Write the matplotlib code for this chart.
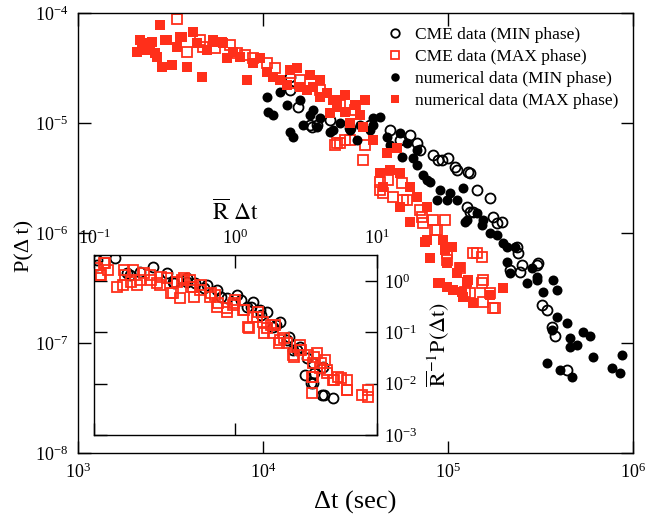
import numpy as np
import matplotlib
matplotlib.use("Agg")
import matplotlib.pyplot as plt
from matplotlib.ticker import NullLocator, LogLocator

plt.rcParams.update({"font.family": ["Liberation Serif", "DejaVu Serif"],
                     "mathtext.fontset": "stix", "font.size": 13,
                     "axes.linewidth": 1.0})

RED = "#ff2f1a"

# main panel: waiting times (s) and P(dt)
cme_min_dt = [1.4e4, 1.4e4, 1.79e4, 1.55e4, 1.84e4, 1.96e4, 6.23e4, 6.8e4, 8.3e4, 8.83e4,
              1.0e5, 1.09e5, 1.31e5, 1.43e5, 1.69e5, 1.75e5, 1.96e5, 2.36e5, 2.38e5, 1.27e5,
              1.37e5, 7.06e4, 9.3e4, 1.12e5, 1.28e5, 1.84e5, 2.51e5, 3.06e5, 2.16e5, 3.22e5,
              3.43e5, 3.65e5, 3.79e5, 4.4e5, 2.45e5, 3.03e5, 1.31e5, 2.3e4, 2.95e4, 3.79e4,
              4.86e4, 5.5e4]
cme_min_p = [2.65e-5, 2.02e-5, 9.7e-6, 1.41e-5, 9.3e-6, 9.7e-6, 7.85e-6, 6.65e-6, 5.17e-6, 4.66e-6,
             4.86e-6, 4.02e-6, 3.55e-6, 2.49e-6, 2.1e-6, 1.41e-6, 1.27e-6, 7.54e-7, 6.65e-7, 1.74e-6,
             1.57e-6, 5.74e-6, 4.66e-6, 3.78e-6, 3.62e-6, 1.25e-6, 5.17e-7, 5.4e-7, 4.66e-7, 2.24e-7,
             2.02e-7, 1.41e-7, 1.15e-7, 5.74e-8, 4.47e-7, 5.17e-7, 1.57e-6, 1.08e-5, 9.1e-6, 9.7e-6,
             8.73e-6, 7.08e-6]

cme_max_dt = [3.43e3, 4.56e3, 4.74e3, 3.88e3, 7.23e3, 8.83e3, 1.05e4, 1.4e4, 2.45e4, 2.51e4,
              2.77e4, 3.14e4, 3.47e4, 4.29e4, 4.74e4, 5.64e4, 4.46e4, 5.04e4, 6.0e4, 7.06e4,
              8.3e4, 9.6e4, 8.73e4, 7.33e4, 9.9e4, 1.37e5, 1.53e5, 4.29e4, 5.71e4, 7.23e4,
              8.5e4, 9.9e4, 1.16e5, 1.43e5, 1.55e5, 1.31e5, 1.69e5, 1.8e5, 1.24e5, 1.53e5,
              1.55e5, 1.75e5, 5.5e3, 6.64e3, 8.0e3, 1.16e4, 1.58e4, 2.03e4, 2.61e4, 2.95e4,
              3.56e4, 2.61e4]
cme_max_p = [8.91e-5, 5.74e-5, 4.96e-5, 4.47e-5, 4.38e-5, 3.94e-5, 3.55e-5, 2.34e-5, 6.38e-6, 6.65e-6,
             7.08e-6, 1.33e-5, 4.66e-6, 2.94e-6, 3.06e-6, 2.88e-6, 2.33e-6, 2.15e-6, 2.02e-6, 1.64e-6,
             1.33e-6, 1.33e-6, 1.08e-6, 1.25e-6, 6.65e-7, 6.65e-7, 6.11e-7, 2.49e-6, 2.02e-6, 1.41e-6,
             1.08e-6, 5.74e-7, 4.86e-7, 6.65e-7, 3.78e-7, 2.88e-7, 2.88e-7, 2.1e-7, 2.94e-7, 3.55e-7,
             2.38e-7, 2.1e-7, 4.86e-5, 5.17e-5, 4.2e-5, 3.2e-5, 2.49e-5, 2.02e-5, 1.47e-5, 7.08e-6,
             6.38e-6, 6.65e-6]

num_min_dt = [1.05e4, 1.06e4, 1.13e4, 1.4e4, 1.45e4, 1.24e4, 1.35e4, 1.58e4, 1.65e4, 1.86e4,
              2.03e4, 1.96e4, 2.3e4, 2.39e4, 2.61e4, 3.22e4, 3.79e4, 4.29e4, 3.93e4, 4.68e4,
              5.5e4, 6.0e4, 5.64e4, 6.47e4, 6.8e4, 7.33e4, 8.0e4, 9.05e4, 8.73e4, 1.03e5,
              1.12e5, 1.2e5, 1.24e5, 1.53e5, 1.69e5, 1.84e5, 1.98e5, 2.3e5, 2.08e5, 2.16e5,
              2.84e5, 2.67e5, 3.03e5, 3.26e5, 3.7e5, 3.88e5, 3.88e5, 4.4e5, 3.65e5, 4.56e5,
              4.98e5, 5.37e5, 5.86e5, 6.08e5, 3.43e5, 4.03e5, 4.68e5, 7.7e5, 8.73e5, 8.5e5,
              4.56e5, 3.93e4, 6.8e4, 7.7e4, 9.9e4, 1.27e5, 1.43e5, 1.55e5, 2.08e5, 3.03e5,
              1.79e4, 2.95e4, 4.86e4, 3.34e4]
num_min_p = [1.74e-5, 1.27e-5, 1.19e-5, 8.37e-6, 7.54e-6, 1.93e-5, 1.47e-5, 1.64e-5, 9.7e-6, 1.33e-5,
             1.12e-5, 9.3e-6, 8.37e-6, 8.73e-6, 1.01e-5, 7.08e-6, 8.73e-6, 1.15e-5, 9.7e-6, 7.54e-6,
             8.2e-6, 6.65e-6, 4.96e-6, 4.86e-6, 4.2e-6, 3.4e-6, 2.94e-6, 2.49e-6, 2.02e-6, 2.33e-6,
             2.02e-6, 2.59e-6, 1.27e-6, 1.19e-6, 1.01e-6, 9.7e-7, 8.2e-7, 7.54e-7, 5.5e-7, 4.38e-7,
             4.86e-7, 3.55e-7, 3.78e-7, 2.94e-7, 3.78e-7, 3.06e-7, 1.74e-7, 1.53e-7, 1.33e-7, 1.12e-7,
             9.7e-8, 1.27e-7, 1.15e-7, 7.54e-8, 6.65e-8, 5.74e-8, 4.96e-8, 5.98e-8, 7.85e-8, 5.4e-8,
             9.3e-8, 1.12e-5, 5.74e-6, 3.06e-6, 2.02e-6, 1.33e-6, 1.54e-6, 1.33e-6, 7.54e-7, 4.02e-7,
             1.19e-5, 8.73e-6, 6.38e-6, 9.7e-6]

num_max_dt = [2.77e3, 2.08e3, 2.22e3, 2.51e3, 2.36e3, 2.67e3, 2.84e3, 3.03e3, 3.22e3, 3.43e3,
              3.65e3, 3.88e3, 4.19e3, 4.68e3, 4.4e3, 4.98e3, 5.37e3, 6.08e3, 6.39e3, 6.89e3,
              7.51e3, 8.2e3, 8.83e3, 9.63e3, 1.05e4, 1.13e4, 1.24e4, 1.35e4, 1.53e4, 1.58e4,
              1.73e4, 1.86e4, 2.03e4, 2.22e4, 2.39e4, 2.3e4, 2.51e4, 2.95e4, 3.47e4, 3.93e4,
              4.68e4, 5.3e4, 4.29e4, 4.86e4, 5.5e4, 4.46e4, 6.23e4, 5.5e4, 6.8e4, 7.7e4,
              6.23e4, 7.7e4, 9.4e4, 7.5e4, 8.0e4, 1.05e5, 9.9e4, 1.16e5, 9.05e4, 9.9e4,
              1.06e5, 1.19e5, 1.28e5, 1.12e5, 1.2e5, 1.37e5, 1.98e5, 9.6e4, 8.83e4, 1.69e5,
              1.27e5, 2.51e4, 1.4e4, 1.79e4, 2.03e4, 2.77e4, 3.14e4, 3.34e4, 3.56e4, 2.77e4,
              2.16e3, 2.45e3, 2.61e3, 2.95e3, 3.56e3, 5.37e3, 6.0e3]
num_max_p = [7.85e-5, 4.47e-5, 5.4e-5, 5.5e-5, 4.66e-5, 4.02e-5, 3.27e-5, 5.74e-5, 3.4e-5, 4.96e-5,
             6.11e-5, 3.27e-5, 6.79e-5, 2.65e-5, 5.4e-5, 4.66e-5, 5.5e-5, 5.4e-5, 3.94e-5, 4.47e-5,
             4.02e-5, 2.49e-5, 3.55e-5, 3.94e-5, 2.94e-5, 2.65e-5, 2.49e-5, 2.24e-5, 3.2e-5, 2.15e-5,
             2.02e-5, 2.15e-5, 1.74e-5, 1.89e-5, 1.64e-5, 1.25e-5, 1.41e-5, 1.01e-5, 9.3e-6, 7.08e-6,
             5.4e-6, 5.98e-6, 3.55e-6, 3.78e-6, 3.55e-6, 2.65e-6, 2.65e-6, 1.74e-6, 2.15e-6, 1.74e-6,
             1.27e-6, 8.73e-7, 8.73e-7, 8.37e-7, 5.98e-7, 7.54e-7, 5.4e-7, 4.96e-7, 3.55e-7, 3.27e-7,
             3.06e-7, 2.94e-7, 3.78e-7, 4.38e-7, 2.65e-7, 2.34e-7, 3.2e-7, 7.08e-7, 3.55e-7, 2.76e-7,
             3.62e-7, 1.64e-5, 3.06e-5, 2.76e-5, 2.49e-5, 1.82e-5, 1.47e-5, 1.19e-5, 1.64e-5, 1.27e-5,
             5.74e-5, 5.4e-5, 4.38e-5, 5.74e-5, 6.11e-5, 5.74e-5, 5.5e-5]

# inset: rescaled CME data (R*dt, P/R)
in_min_x = [0.14, 0.26, 0.327, 0.454, 0.628, 1.03, 1.33, 1.67, 2.07, 2.32,
            2.86, 3.54, 4.17, 4.12, 4.9, 3.54, 0.104, 0.211, 0.361, 0.74,
            0.871, 1.21, 1.84, 2.55, 0.179, 0.516, 1.49, 3.1, 0.17, 0.366,
            0.454, 0.598, 0.789, 1.09, 1.29, 1.52, 1.94, 2.39, 2.73, 3.21,
            3.6, 3.43, 4.24, 0.104]
in_min_y = [2.81, 1.87, 1.43, 1.14, 0.835, 0.533, 0.39, 0.249, 0.159, 0.0708,
            0.0517, 0.0252, 0.0211, 0.006, 0.00524, 0.0103, 2.05, 1.5, 0.956, 0.668,
            0.466, 0.311, 0.127, 0.0452, 1.31, 0.914, 0.272, 0.0147, 1.43, 0.914,
            0.956, 0.73, 0.488, 0.426, 0.311, 0.217, 0.139, 0.0806, 0.0452, 0.0316,
            0.0161, 0.0103, 0.006, 2.57]
in_max_x = [0.104, 0.11, 0.119, 0.125, 0.145, 0.16, 0.188, 0.211, 0.248, 0.278,
            0.327, 0.361, 0.418, 0.405, 0.5, 0.561, 0.66, 0.752, 0.871, 0.96,
            1.13, 1.23, 1.33, 1.57, 1.67, 1.84, 2.07, 2.32, 2.55, 2.86,
            3.26, 3.78, 3.54, 3.97, 3.48, 4.45, 4.9, 5.32, 6.16, 6.16,
            7.87, 8.68, 8.68, 3.54, 0.165, 0.292, 0.476, 0.716, 0.99, 1.44,
            1.9, 2.86, 4.3, 0.117, 0.112, 0.162, 0.182, 0.2, 0.225, 0.252,
            0.297, 0.349, 0.385, 0.432, 0.484, 0.57, 0.508, 0.67, 0.74, 0.871,
            0.975, 1.15, 1.25, 1.42, 1.59, 1.78, 2.03, 2.2, 2.6, 2.91,
            3.6, 3.48, 4.03, 4.45, 4.99, 5.58, 6.16]
in_max_y = [1.79, 1.31, 2.24, 1.64, 0.764, 0.835, 1.64, 1.05, 1.31, 0.914,
            1.14, 0.583, 1.05, 0.466, 0.764, 0.668, 0.488, 0.372, 0.298, 0.34,
            0.272, 0.127, 0.199, 0.159, 0.121, 0.097, 0.0708, 0.0618, 0.0361, 0.0452,
            0.0361, 0.0395, 0.0252, 0.0201, 0.00656, 0.0161, 0.0118, 0.0135, 0.0118, 0.0075,
            0.006, 0.0075, 0.00548, 0.0135, 1.31, 0.835, 1.05, 0.533, 0.426, 0.249,
            0.139, 0.0565, 0.0288, 2.24, 1.31, 1.64, 0.956, 0.835, 1.43, 1.05,
            1.2, 0.583, 0.956, 1.14, 0.764, 0.835, 0.488, 0.583, 0.311, 0.249,
            0.372, 0.272, 0.121, 0.199, 0.097, 0.139, 0.0618, 0.0774, 0.033, 0.0452,
            0.033, 0.0135, 0.0252, 0.0184, 0.0118, 0.0129, 0.0075]

fig = plt.figure(figsize=(6.69, 5.15), dpi=100)
ax = fig.add_axes([0.1166, 0.1204, 0.8296, 0.8534])

ms = 7.2
ax.plot(cme_min_dt, cme_min_p, "o", ms=ms, mfc="none", mec="k", mew=1.3, label="CME data (MIN phase)")
ax.plot(cme_max_dt, cme_max_p, "s", ms=6.6, mfc="none", mec=RED, mew=1.3, label="CME data (MAX phase)")
ax.plot(num_min_dt, num_min_p, "o", ms=ms, mfc="k", mec="k", mew=0, label="numerical data (MIN phase)")
ax.plot(num_max_dt, num_max_p, "s", ms=6.6, mfc=RED, mec=RED, mew=0, label="numerical data (MAX phase)")

ax.set_xscale("log"); ax.set_yscale("log")
ax.set_xlim(1e3, 1e6); ax.set_ylim(1e-8, 1e-4)
ax.xaxis.set_minor_locator(NullLocator()); ax.yaxis.set_minor_locator(NullLocator())
ax.tick_params(which="major", direction="in", length=9, width=1.0, top=True, right=True,
               labelsize=13, pad=7)
ax.set_xlabel("Δt (sec)", fontsize=19, labelpad=6)
ax.set_ylabel("P(Δ t)", fontsize=16, labelpad=6)
ax.yaxis.set_label_coords(-0.078, 0.47)
ax.legend(loc="upper right", frameon=False, fontsize=12.5, markerscale=0.85,
          handlelength=1.2, handletextpad=0.6, labelspacing=0.35,
          bbox_to_anchor=(0.99, 0.99), borderaxespad=0.1)

# inset
axi = fig.add_axes([0.141, 0.1553, 0.422, 0.3496])
axi.plot(in_min_x, in_min_y, "o", ms=ms, mfc="none", mec="k", mew=1.3)
axi.plot(in_max_x, in_max_y, "s", ms=6.6, mfc="none", mec=RED, mew=1.3)
axi.set_xscale("log"); axi.set_yscale("log")
axi.set_xlim(0.1, 10); axi.set_ylim(1e-3, 3.2)
axi.yaxis.set_major_locator(LogLocator(base=10, numticks=10))
axi.xaxis.set_minor_locator(NullLocator()); axi.yaxis.set_minor_locator(NullLocator())
axi.tick_params(which="major", direction="in", length=9, width=1.0,
                top=True, bottom=True, left=True, right=True,
                labeltop=True, labelbottom=False, labelleft=False, labelright=True,
                labelsize=13, pad=5)
axi.xaxis.set_label_position("top"); axi.yaxis.set_label_position("right")
axi.set_xlabel(r"$\overline{\mathrm{R}}\ \Delta\mathrm{t}$", fontsize=17, labelpad=6)
axi.set_ylabel(r"$\overline{\mathrm{R}}^{-1}\mathrm{P}(\Delta\mathrm{t})$", fontsize=16, labelpad=6)

fig.savefig("out.png", dpi=100)
